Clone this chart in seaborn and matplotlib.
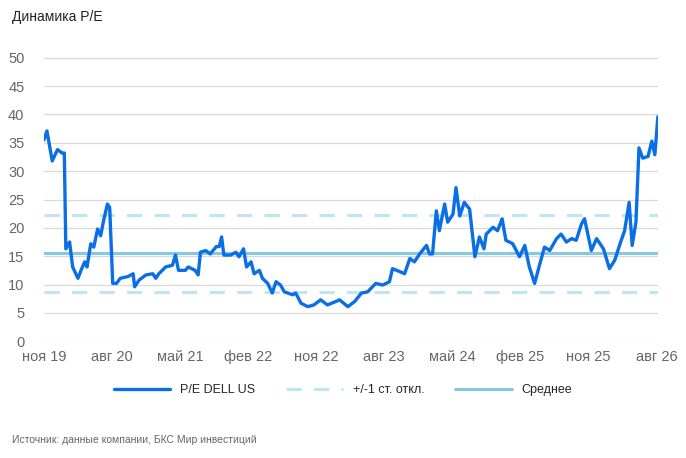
import numpy as np
import pandas as pd
import matplotlib
matplotlib.use("Agg")
import matplotlib.pyplot as plt
import seaborn as sns
from matplotlib.lines import Line2D

# months since Nov 2019
months = [0, 0.4, 1.1, 1.8, 2.4, 2.7, 2.9, 3.4, 3.8, 4.5, 5.0, 5.4, 5.7, 6.2, 6.6, 7.1, 7.5, 7.9, 8.4,
          8.7, 9.1, 9.6, 10.1, 11.1, 11.8, 12.0, 12.6, 13.5, 14.4, 14.8, 15.2, 16.1, 17.0, 17.4, 17.8,
          18.7, 19.1, 20.0, 20.4, 20.7, 21.4, 22.0, 22.8, 23.2, 23.5, 23.8, 24.7, 25.4, 25.8, 26.4,
          26.8, 27.4, 27.8, 28.5, 28.9, 29.6, 30.2, 30.7, 31.3, 31.8, 32.9, 33.3, 34.0, 34.9, 35.7,
          36.6, 37.5, 38.6, 39.1, 40.2, 41.1, 42.0, 42.8, 43.9, 44.8, 45.7, 46.1, 47.2, 47.7, 48.4,
          49.0, 49.7, 50.6, 51.0, 51.4, 51.9, 52.3, 53.0, 53.4, 54.1, 54.5, 55.0, 55.6, 56.3, 57.0,
          57.6, 58.2, 58.5, 59.4, 60.0, 60.6, 61.1, 62.0, 62.9, 63.6, 64.2, 64.9, 65.6, 66.2, 66.9,
          67.8, 68.4, 69.1, 69.8, 70.4, 71.1, 71.5, 72.4, 73.1, 74.0, 74.8, 75.5, 76.2, 76.8, 77.4,
          77.8, 78.3, 78.7, 79.2, 79.9, 80.4, 80.8, 81.2]
pe = [35.5, 37.1, 31.8, 33.8, 33.2, 33.2, 16.3, 17.5, 13.1, 11.1, 12.8, 14.0, 13.1, 17.2, 16.6, 19.8,
      18.6, 21.3, 24.2, 23.6, 10.2, 10.2, 11.1, 11.4, 11.9, 9.6, 10.8, 11.7, 11.9, 11.1, 11.9, 13.1,
      13.4, 15.2, 12.5, 12.5, 13.1, 12.5, 11.7, 15.7, 16.0, 15.4, 16.7, 16.7, 18.4, 15.2, 15.2, 15.7,
      14.9, 16.3, 13.1, 14.0, 11.9, 12.5, 11.1, 10.2, 8.5, 10.5, 9.9, 8.7, 8.2, 8.5, 6.7, 6.1, 6.4,
      7.3, 6.4, 7.0, 7.3, 6.1, 7.0, 8.5, 8.7, 10.2, 9.9, 10.5, 12.8, 12.2, 11.9, 14.6, 14.0, 15.4,
      16.9, 15.4, 15.4, 23.0, 19.5, 24.2, 21.0, 22.4, 27.1, 22.1, 24.5, 23.3, 14.9, 18.4, 16.3, 18.9,
      20.1, 19.5, 21.6, 17.8, 17.2, 14.9, 16.9, 13.1, 10.2, 13.7, 16.6, 16.0, 18.1, 18.9, 17.5, 18.1,
      17.8, 20.7, 21.6, 16.0, 18.1, 16.3, 12.8, 14.3, 17.2, 19.5, 24.5, 16.9, 21.0, 34.1, 32.3, 32.6,
      35.3, 32.9, 39.6]
mean_pe = 15.5
upper_pe = 22.2
lower_pe = 8.7
tick_months = [0, 9, 18, 27, 36, 45, 54, 63, 72, 81]
tick_labels = ["ноя 19", "авг 20", "май 21", "фев 22", "ноя 22", "авг 23", "май 24", "фев 25", "ноя 25", "авг 26"]

df = pd.DataFrame({"month": months, "pe": pe})

sns.set_style("white")
plt.rcParams["font.family"] = ["Arial", "Liberation Sans", "DejaVu Sans"]

fig = plt.figure(figsize=(6.86, 4.58), dpi=100)
ax = fig.add_axes([0.064, 0.255, 0.895, 0.625])

line_c = "#0a6ee6"
mean_c = "#86c8e4"
dash_c = "#bfe4f3"
grid_c = "#d9d9d9"

for v in range(0, 55, 5):
    ax.axhline(v, color=grid_c, lw=0.9, zorder=0)
ax.axhline(upper_pe, color=dash_c, lw=2.2, ls=(0, (5, 4)), zorder=1)
ax.axhline(lower_pe, color=dash_c, lw=2.2, ls=(0, (5, 4)), zorder=1)
ax.axhline(mean_pe, color=mean_c, lw=2.2, zorder=1)
sns.lineplot(data=df, x="month", y="pe", color=line_c, lw=2.4, ax=ax, zorder=3)

ax.set_xlim(0, 81.2)
ax.set_ylim(0, 50.5)
ax.set_yticks(range(0, 55, 5))
ax.set_xticks(tick_months)
ax.set_xticklabels(tick_labels)
ax.set_xlabel("")
ax.set_ylabel("")
ax.tick_params(axis="both", colors="#666666", labelsize=10.5, length=0, pad=6)
ax.tick_params(axis="y", pad=14)
for s in ax.spines.values():
    s.set_visible(False)

handles = [Line2D([], [], color=line_c, lw=2.4),
           Line2D([], [], color=dash_c, lw=2.2, ls=(0, (5, 4))),
           Line2D([], [], color=mean_c, lw=2.2)]
fig.legend(handles, ["P/E DELL US", "+/-1 ст. откл.", "Среднее"], loc="center",
           bbox_to_anchor=(0.5, 0.148), ncol=3, frameon=False, fontsize=9,
           handlelength=4.5, columnspacing=2.5)

fig.text(0.017, 0.962, "Динамика P/E", fontsize=10, color="#222222", va="center")
fig.text(0.017, 0.04, "Источник: данные компании, БКС Мир инвестиций", fontsize=7.5,
         color="#666666", va="center")

fig.savefig("out.png", dpi=100)
